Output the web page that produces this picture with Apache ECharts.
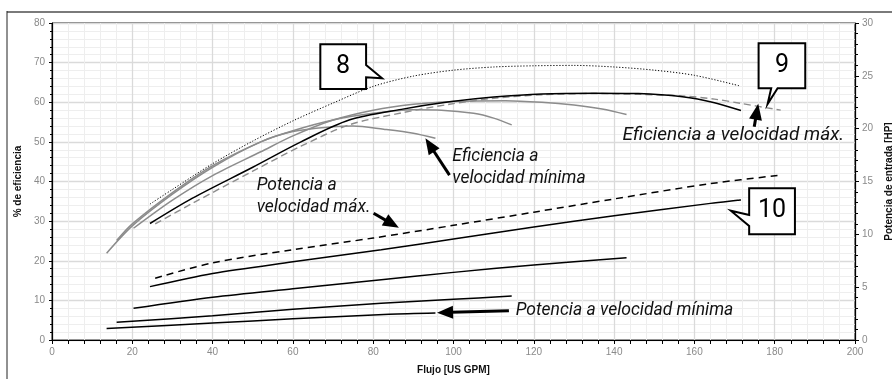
<!DOCTYPE html>
<html>
<head>
<meta charset="utf-8">
<script src="https://cdn.jsdelivr.net/npm/echarts@6/dist/echarts.min.js"></script>
<style>
html, body { margin: 0; padding: 0; background: #fff; }
#chart { width: 892px; height: 379px; }
</style>
</head>
<body>
<div id="chart"></div>
<script>
// ---- Axis ranges and ticks ----
const flowTicks = [0, 200, 20];        // min, max, step  (US GPM)
const effTicks = [0, 80, 10];          // min, max, step  (%)
const powerTicks = [0, 30, 5];         // min, max, step  (HP)

// ---- Efficiency curves: [flow, %] ----
const effUpper = [[24.4,34.3],[30,38],[40,44.5],[50,50.2],[60,55.3],[70,59.8],[80,64.0],[90,66.6],[100,68.1],[110,68.9],[120,69.2],[130,69.3],[140,68.9],[150,68.1],[160,66.8],[171.4,64.1]];
const effMaxSpeed = [[25.7,29.3],[35,34.5],[50,42.6],[62,48.9],[74,54.3],[87,57.3],[99,59.5],[110,61.0],[122,61.9],[135,62.2],[146,62.0],[157,61.6],[165,60.8],[171.6,59.7],[181.5,58.0]];
const effSpeed2 = [[24.4,29.4],[35,35.8],[50,43.6],[62,50.0],[74,55.5],[87,58.2],[99,60.1],[110,61.3],[122,62.1],[135,62.3],[146,62.2],[157,61.4],[165,59.9],[171.6,57.9]];
const effSpeed3 = [[20.3,28.2],[30,35.3],[40,41.5],[52,47.5],[60,51.5],[70,55.5],[80,58.0],[90,59.5],[100,60.2],[113,60.4],[122,60.0],[130,59.3],[137,58.3],[143.1,56.9]];
const effSpeed4 = [[16.1,25.1],[20,29.3],[30,37.2],[40,44.0],[52,50.0],[60,52.8],[70,55.5],[80,57.2],[90,58.1],[97,58.0],[105,57.2],[110,56.0],[114.5,54.3]];
const effMinSpeed = [[13.6,21.9],[20,28.8],[30,36.8],[40,43.6],[52,50.0],[60,52.6],[70,53.8],[75,54.0],[82.6,53.2],[90,52.2],[95.5,50.9]];

// ---- Input power curves: [flow, HP] ----
const powerMaxSpeed = [[25.7,5.85],[40,7.3],[60,8.55],[80,9.65],[100,10.85],[120,12.1],[140,13.35],[164,14.8],[181.5,15.6]];
const powerSpeed2 = [[24.4,5.05],[40,6.3],[60,7.4],[82,8.55],[100,9.55],[120,10.7],[140,11.75],[164,12.93],[171.6,13.25]];
const powerSpeed3 = [[20.3,3.0],[40,4.05],[60,4.85],[82,5.7],[100,6.4],[120,7.1],[143.1,7.79]];
const powerSpeed4 = [[16.1,1.67],[40,2.3],[60,2.9],[82,3.47],[100,3.85],[114.5,4.16]];
const powerMinSpeed = [[13.6,1.1],[40,1.6],[60,2.0],[84,2.43],[95.5,2.55]];

// ---- Text ----
const xTitle = 'Flujo [US GPM]';
const yLeftTitle = '% de eficiencia';
const yRightTitle = 'Potencia de entrada [HP]';

// ---- Annotations, placed in chart units (flow, %) ----
const notes = [
  { text: 'Eficiencia a\nvelocidad mínima', at: [99.7, 43.5], size: 17.5 },
  { text: 'Potencia a\nvelocidad máx.', at: [51.0, 36.2], size: 17.5 },
  { text: 'Potencia a velocidad mínima', at: [115.5, 7.5], size: 17.5 },
  { text: 'Eficiencia a velocidad máx.', at: [142.1, 51.6], size: 19 }
];
const arrows = [
  { from: [99.0, 41.6], to: [93.0, 50.9] },
  { from: [80.1, 32.0], to: [86.4, 28.3] },
  { from: [113.8, 7.4], to: [95.9, 6.9] },
  { from: [174.9, 53.8], to: [175.9, 59.6] }
];
const callouts = [
  { label: '8', center: [72.5, 69.0],
    outline: [[66.83,74.62],[78.23,74.62],[78.23,69.40],[82.22,66.04],[78.23,66.30],[78.23,63.34],[66.83,63.34]] },
  { label: '9', center: [181.8, 69.2],
    outline: [[175.99,74.88],[187.61,74.88],[187.61,63.52],[180.72,63.52],[178.23,59.56],[179.13,63.52],[175.99,63.52]] },
  { label: '10', center: [179.35, 32.5],
    outline: [[173.64,38.28],[185.04,38.28],[185.04,26.68],[173.64,26.68],[173.64,28.77],[169.08,32.63],[173.64,31.55]] }
];

const GRAY = '#8c8c8c';
const labelFont = 'Liberation Sans, Arial, sans-serif';
const noteFont = 'Roboto, Noto Sans, sans-serif';

function line(name, data, axis, color, width, type) {
  return {
    name, type: 'line', data, yAxisIndex: axis,
    smooth: 0.3, symbol: 'none', silent: true,
    lineStyle: { color, width, type: type || 'solid' },
    z: 3
  };
}

const axisTickLabel = { color: '#8a8a8a', fontSize: 10, fontFamily: labelFont };
const nameStyle = { color: '#111', fontSize: 10, fontWeight: 'bold', fontFamily: labelFont };

const chart = echarts.init(document.getElementById('chart'), null, { renderer: 'canvas' });

chart.setOption({
  animation: false,
  backgroundColor: '#fff',
  grid: {
    left: 52, right: 37, top: 23, bottom: 39,
    outerBoundsMode: 'none', containLabel: false,
    show: true, borderColor: '#000', borderWidth: 1, backgroundColor: 'transparent'
  },
  xAxis: {
    type: 'value', min: flowTicks[0], max: flowTicks[1], interval: flowTicks[2],
    name: xTitle, nameLocation: 'middle', nameGap: 25, nameTextStyle: nameStyle,
    axisLine: { lineStyle: { color: '#000', width: 1.2 } },
    axisTick: { show: true, length: 4, lineStyle: { color: '#000' } },
    minorTick: { show: true, splitNumber: 5, length: 4, lineStyle: { color: '#000' } },
    axisLabel: Object.assign({ margin: 7 }, axisTickLabel),
    splitLine: { show: true, lineStyle: { color: '#dadada', width: 1.3 } },
    minorSplitLine: { show: true, lineStyle: { color: '#eeeeee', width: 1 } }
  },
  yAxis: [
    {
      type: 'value', min: effTicks[0], max: effTicks[1], interval: effTicks[2], position: 'left',
      name: yLeftTitle, nameLocation: 'middle', nameGap: 28, nameTextStyle: nameStyle,
      axisLine: { show: true, lineStyle: { color: '#000', width: 1.2 } },
      axisTick: { show: true, length: 3, lineStyle: { color: '#000' } },
      minorTick: { show: true, splitNumber: 5, length: 2, lineStyle: { color: '#000' } },
      axisLabel: Object.assign({ margin: 7 }, axisTickLabel),
      splitLine: { show: true, lineStyle: { color: '#dadada', width: 1.3 } },
      minorSplitLine: { show: true, lineStyle: { color: '#eeeeee', width: 1 } }
    },
    {
      type: 'value', min: powerTicks[0], max: powerTicks[1], interval: powerTicks[2], position: 'right',
      name: yRightTitle, nameLocation: 'middle', nameGap: 29, nameTextStyle: nameStyle,
      axisLine: { show: true, lineStyle: { color: '#000', width: 1.2 } },
      axisTick: { show: true, length: 4, lineStyle: { color: '#000' } },
      minorTick: { show: true, splitNumber: 5, length: 3, lineStyle: { color: '#000' } },
      axisLabel: Object.assign({ margin: 7 }, axisTickLabel),
      splitLine: { show: false }
    }
  ],
  series: [
    line('effUpper', effUpper, 0, '#000', 1, [1.2, 1.8]),
    line('effMaxSpeed', effMaxSpeed, 0, GRAY, 1.4, [7, 4]),
    line('effMinSpeed', effMinSpeed, 0, GRAY, 1.5),
    line('effSpeed4', effSpeed4, 0, GRAY, 1.5),
    line('effSpeed3', effSpeed3, 0, GRAY, 1.5),
    line('effSpeed2', effSpeed2, 0, '#000', 1.5),
    line('powerMaxSpeed', powerMaxSpeed, 1, '#000', 1.5, [7, 5]),
    line('powerSpeed2', powerSpeed2, 1, '#000', 1.5),
    line('powerSpeed3', powerSpeed3, 1, '#000', 1.5),
    line('powerSpeed4', powerSpeed4, 1, '#000', 1.5),
    line('powerMinSpeed', powerMinSpeed, 1, '#000', 1.5)
  ]
});

// ---- Annotation layer, converted from chart units to pixels ----
function px(p) {
  return chart.convertToPixel({ xAxisIndex: 0, yAxisIndex: 0 }, p);
}

function arrowShapes(a) {
  const s = px(a.from), t = px(a.to);
  const dx = t[0] - s[0], dy = t[1] - s[1];
  const len = Math.hypot(dx, dy), ux = dx / len, uy = dy / len;
  const headLen = 16, headHalf = 6.5;
  const bx = t[0] - ux * headLen, by = t[1] - uy * headLen;
  return [
    { type: 'line', silent: true, z: 20,
      shape: { x1: s[0], y1: s[1], x2: bx + ux * 2, y2: by + uy * 2 },
      style: { stroke: '#000', lineWidth: 3 } },
    { type: 'polygon', silent: true, z: 20,
      shape: { points: [t, [bx - uy * headHalf, by + ux * headHalf], [bx + uy * headHalf, by - ux * headHalf]] },
      style: { fill: '#000' } }
  ];
}

const graphics = [
  // outer frame edges
  { type: 'line', silent: true, z: 1, shape: { x1: 7, y1: 12, x2: 892, y2: 12 }, style: { stroke: '#7a7a7a', lineWidth: 2 } },
  { type: 'line', silent: true, z: 1, shape: { x1: 7, y1: 11, x2: 7, y2: 379 }, style: { stroke: '#222', lineWidth: 1 } }
];

notes.forEach(n => {
  const p = px(n.at);
  graphics.push({
    type: 'text', silent: true, z: 20, x: p[0], y: p[1],
    style: { text: n.text, fill: '#111', font: 'italic ' + n.size + 'px ' + noteFont, lineHeight: 22, align: 'left', verticalAlign: 'middle' }
  });
});

arrows.forEach(a => arrowShapes(a).forEach(g => graphics.push(g)));

callouts.forEach(c => {
  graphics.push({
    type: 'polygon', silent: true, z: 25,
    shape: { points: c.outline.map(px) },
    style: { fill: '#fff', stroke: '#000', lineWidth: 2, lineJoin: 'miter' }
  });
  const p = px(c.center);
  graphics.push({
    type: 'text', silent: true, z: 26, x: p[0], y: p[1],
    style: { text: c.label, fill: '#000', font: '25px ' + noteFont, align: 'center', verticalAlign: 'middle' }
  });
});

chart.setOption({ graphic: graphics });
</script>
</body>
</html>
